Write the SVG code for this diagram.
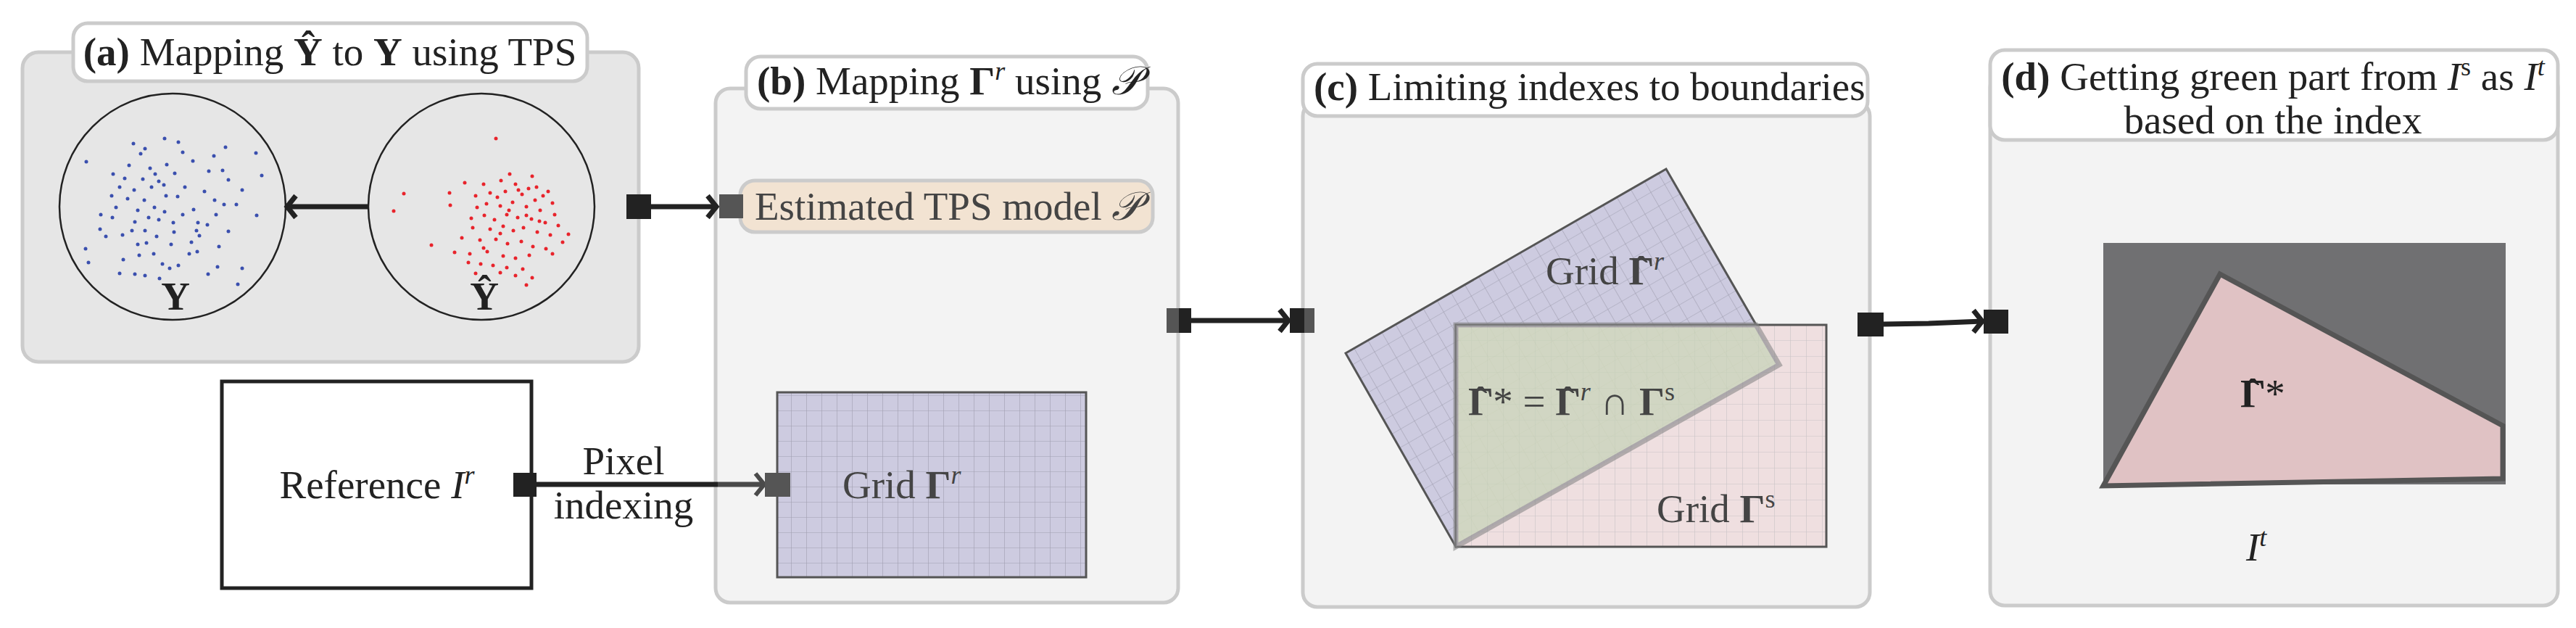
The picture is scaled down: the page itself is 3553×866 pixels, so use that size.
<svg xmlns="http://www.w3.org/2000/svg" width="3553" height="866" viewBox="0 0 3553 866" font-family="'DejaVu Serif', 'Liberation Serif', serif">
<style>
text{font-family:'Liberation Serif','DejaVu Serif',serif;fill:#222}
.t{font-size:55px}
.panel{fill:#f3f3f3;stroke:#cbcbcb;stroke-width:5}
.ttl{fill:#fff;stroke:#cbcbcb;stroke-width:5}
.con{stroke:#222;stroke-width:7;fill:none}
.g{fill:#555}
.bd{fill:#222}
.bl circle{fill:#3a4fae}
.rd circle{fill:#e8232b}
</style>
<defs>
<pattern id="gb" width="21" height="21" patternUnits="userSpaceOnUse"><rect width="21" height="21" fill="#cdcbe0"/><path d="M21 0V21M0 21H21" stroke="#a09fb0" stroke-width="1.2"/></pattern>
<pattern id="gr" width="22" height="22" patternUnits="userSpaceOnUse" patternTransform="rotate(-30 1856 487)"><rect width="22" height="22" fill="#cdcbe0"/><path d="M22 0V22M0 22H22" stroke="#a09fb0" stroke-width="1.2"/></pattern>
<pattern id="gp" width="22" height="22" patternUnits="userSpaceOnUse" x="2008" y="448"><rect width="22" height="22" fill="#efdfe0"/><path d="M22 0V22M0 22H22" stroke="#c9c4c6" stroke-width="1.2"/></pattern>
</defs>

<g id="panel-a">
<rect class="panel" x="31" y="72" width="850" height="427" rx="22" style="fill:#e6e6e6"/>
<rect class="ttl" x="101" y="32" width="709" height="80" rx="20"/>
<text class="t" x="455" y="90" text-anchor="middle"><tspan font-weight="bold">(a)</tspan> Mapping <tspan font-weight="bold">Ŷ</tspan> to <tspan font-weight="bold">Y</tspan> using TPS</text>
<circle cx="238" cy="285" r="156" fill="none" stroke="#222" stroke-width="2.5"/>
<circle cx="664" cy="285" r="156" fill="none" stroke="#222" stroke-width="2.5"/>
<text class="t" x="242" y="427" text-anchor="middle" font-weight="bold">Y</text>
<text class="t" x="668" y="427" text-anchor="middle" font-weight="bold">Ŷ</text>
<g class="bl">
<circle cx="119" cy="223" r="2.5"/><circle cx="184" cy="198" r="2.5"/><circle cx="200" cy="205" r="2.5"/><circle cx="227" cy="191" r="2.5"/><circle cx="246" cy="196" r="2.5"/><circle cx="311" cy="203" r="2.5"/><circle cx="353" cy="211" r="2.5"/><circle cx="295" cy="215" r="2.5"/><circle cx="178" cy="228" r="2.5"/><circle cx="207" cy="232" r="2.5"/><circle cx="230" cy="227" r="2.5"/><circle cx="266" cy="222" r="2.5"/><circle cx="288" cy="236" r="2.5"/><circle cx="156" cy="240" r="2.5"/><circle cx="172" cy="246" r="2.5"/><circle cx="197" cy="247" r="2.5"/><circle cx="219" cy="250" r="2.5"/><circle cx="241" cy="239" r="2.5"/><circle cx="307" cy="235" r="2.5"/><circle cx="361" cy="242" r="2.5"/><circle cx="315" cy="248" r="2.5"/><circle cx="165" cy="258" r="2.5"/><circle cx="185" cy="262" r="2.5"/><circle cx="209" cy="258" r="2.5"/><circle cx="226" cy="255" r="2.5"/><circle cx="255" cy="258" r="2.5"/><circle cx="282" cy="264" r="2.5"/><circle cx="154" cy="270" r="2.5"/><circle cx="176" cy="274" r="2.5"/><circle cx="199" cy="276" r="2.5"/><circle cx="229" cy="270" r="2.5"/><circle cx="245" cy="271" r="2.5"/><circle cx="296" cy="276" r="2.5"/><circle cx="334" cy="262" r="2.5"/><circle cx="309" cy="282" r="2.5"/><circle cx="160" cy="286" r="2.5"/><circle cx="190" cy="290" r="2.5"/><circle cx="213" cy="286" r="2.5"/><circle cx="227" cy="292" r="2.5"/><circle cx="267" cy="289" r="2.5"/><circle cx="326" cy="282" r="2.5"/><circle cx="139" cy="296" r="2.5"/><circle cx="155" cy="300" r="2.5"/><circle cx="205" cy="300" r="2.5"/><circle cx="219" cy="303" r="2.5"/><circle cx="239" cy="307" r="2.5"/><circle cx="273" cy="307" r="2.5"/><circle cx="298" cy="296" r="2.5"/><circle cx="354" cy="297" r="2.5"/><circle cx="138" cy="316" r="2.5"/><circle cx="182" cy="318" r="2.5"/><circle cx="200" cy="318" r="2.5"/><circle cx="240" cy="320" r="2.5"/><circle cx="271" cy="318" r="2.5"/><circle cx="286" cy="310" r="2.5"/><circle cx="315" cy="319" r="2.5"/><circle cx="146" cy="326" r="2.5"/><circle cx="169" cy="324" r="2.5"/><circle cx="264" cy="334" r="2.5"/><circle cx="275" cy="325" r="2.5"/><circle cx="190" cy="337" r="2.5"/><circle cx="202" cy="335" r="2.5"/><circle cx="236" cy="337" r="2.5"/><circle cx="302" cy="340" r="2.5"/><circle cx="118" cy="343" r="2.5"/><circle cx="192" cy="352" r="2.5"/><circle cx="212" cy="350" r="2.5"/><circle cx="261" cy="350" r="2.5"/><circle cx="272" cy="347" r="2.5"/><circle cx="122" cy="362" r="2.5"/><circle cx="224" cy="364" r="2.5"/><circle cx="234" cy="370" r="2.5"/><circle cx="246" cy="366" r="2.5"/><circle cx="300" cy="368" r="2.5"/><circle cx="334" cy="370" r="2.5"/><circle cx="165" cy="377" r="2.5"/><circle cx="186" cy="378" r="2.5"/><circle cx="200" cy="380" r="2.5"/><circle cx="220" cy="384" r="2.5"/><circle cx="287" cy="378" r="2.5"/><circle cx="328" cy="392" r="2.5"/><circle cx="252" cy="210" r="2.5"/><circle cx="194" cy="212" r="2.5"/><circle cx="214" cy="240" r="2.5"/><circle cx="186" cy="306" r="2.5"/><circle cx="252" cy="296" r="2.5"/><circle cx="216" cy="326" r="2.5"/><circle cx="170" cy="358" r="2.5"/>
</g>
<g class="rd">
<circle cx="684" cy="191" r="2.5"/><circle cx="557" cy="267" r="2.5"/><circle cx="543" cy="291" r="2.5"/><circle cx="620" cy="266" r="2.5"/><circle cx="621" cy="283" r="2.5"/><circle cx="595" cy="338" r="2.5"/><circle cx="641" cy="252" r="2.5"/><circle cx="667" cy="254" r="2.5"/><circle cx="691" cy="249" r="2.5"/><circle cx="703" cy="240" r="2.5"/><circle cx="711" cy="254" r="2.5"/><circle cx="734" cy="243" r="2.5"/><circle cx="740" cy="258" r="2.5"/><circle cx="656" cy="270" r="2.5"/><circle cx="676" cy="266" r="2.5"/><circle cx="697" cy="264" r="2.5"/><circle cx="720" cy="268" r="2.5"/><circle cx="749" cy="270" r="2.5"/><circle cx="762" cy="280" r="2.5"/><circle cx="658" cy="286" r="2.5"/><circle cx="671" cy="281" r="2.5"/><circle cx="690" cy="284" r="2.5"/><circle cx="707" cy="279" r="2.5"/><circle cx="726" cy="285" r="2.5"/><circle cx="745" cy="290" r="2.5"/><circle cx="765" cy="296" r="2.5"/><circle cx="650" cy="301" r="2.5"/><circle cx="668" cy="297" r="2.5"/><circle cx="682" cy="303" r="2.5"/><circle cx="699" cy="296" r="2.5"/><circle cx="714" cy="300" r="2.5"/><circle cx="733" cy="302" r="2.5"/><circle cx="752" cy="307" r="2.5"/><circle cx="770" cy="311" r="2.5"/><circle cx="784" cy="323" r="2.5"/><circle cx="652" cy="314" r="2.5"/><circle cx="676" cy="316" r="2.5"/><circle cx="694" cy="312" r="2.5"/><circle cx="708" cy="318" r="2.5"/><circle cx="722" cy="314" r="2.5"/><circle cx="741" cy="320" r="2.5"/><circle cx="759" cy="324" r="2.5"/><circle cx="776" cy="334" r="2.5"/><circle cx="637" cy="328" r="2.5"/><circle cx="662" cy="331" r="2.5"/><circle cx="684" cy="330" r="2.5"/><circle cx="700" cy="336" r="2.5"/><circle cx="719" cy="333" r="2.5"/><circle cx="735" cy="340" r="2.5"/><circle cx="753" cy="343" r="2.5"/><circle cx="627" cy="348" r="2.5"/><circle cx="648" cy="350" r="2.5"/><circle cx="672" cy="347" r="2.5"/><circle cx="694" cy="353" r="2.5"/><circle cx="711" cy="356" r="2.5"/><circle cx="730" cy="352" r="2.5"/><circle cx="762" cy="350" r="2.5"/><circle cx="646" cy="362" r="2.5"/><circle cx="663" cy="364" r="2.5"/><circle cx="680" cy="366" r="2.5"/><circle cx="699" cy="369" r="2.5"/><circle cx="721" cy="371" r="2.5"/><circle cx="711" cy="380" r="2.5"/><circle cx="734" cy="383" r="2.5"/><circle cx="726" cy="393" r="2.5"/><circle cx="690" cy="376" r="2.5"/><circle cx="656" cy="377" r="2.5"/><circle cx="715" cy="262" r="2.5"/><circle cx="738" cy="276" r="2.5"/><circle cx="756" cy="264" r="2.5"/><circle cx="702" cy="290" r="2.5"/><circle cx="726" cy="297" r="2.5"/><circle cx="686" cy="272" r="2.5"/><circle cx="729" cy="260" r="2.5"/><circle cx="744" cy="305" r="2.5"/><circle cx="690" cy="322" r="2.5"/><circle cx="667" cy="342" r="2.5"/>
</g>
</g>

<g id="panel-b">
<rect class="panel" x="987" y="122" width="638" height="709" rx="20"/>
<rect class="ttl" x="1029" y="78" width="554" height="72" rx="20"/>
<text class="t" x="1044" y="130"><tspan font-weight="bold">(b)</tspan> Mapping <tspan font-weight="bold">Γ</tspan><tspan font-style="italic" dy="-20" font-size="36">r</tspan><tspan dy="20"> using </tspan><tspan font-style="italic">𝒫</tspan></text>
<rect x="1021" y="249" width="569" height="71" rx="20" fill="#f2e3d2" stroke="#cbcbcb" stroke-width="5"/>
<text class="t" x="1041" y="303" style="fill:#444">Estimated TPS model <tspan font-style="italic">𝒫</tspan></text>
<rect x="1072" y="541" width="426" height="255" fill="url(#gb)" stroke="#555" stroke-width="3"/>
<text class="t" x="1162" y="687" style="fill:#444">Grid <tspan font-weight="bold">Γ</tspan><tspan font-style="italic" dy="-20" font-size="36">r</tspan></text>
</g>

<g id="panel-c">
<rect class="panel" x="1797" y="140" width="782" height="697" rx="20"/>
<rect class="ttl" x="1797" y="88" width="779" height="72" rx="20"/>
<text class="t" x="1812" y="138"><tspan font-weight="bold">(c)</tspan> Limiting indexes to boundaries</text>
<polygon points="1856,487 2298,233 2454,503 2008,754" fill="url(#gr)" stroke="#555" stroke-width="3"/>
<rect x="2008" y="448" width="511" height="306" fill="url(#gp)" stroke="#555" stroke-width="3"/>
<polygon points="2008,448 2422,448 2454,503 2008,754" fill="url(#gr)" opacity="0.35"/>
<polygon points="2008,448 2422,448 2454,503 2008,754" fill="#c6d6b0" opacity="0.6" stroke="#888" stroke-width="7"/>
<text class="t" x="2132" y="392" style="fill:#444">Grid <tspan font-weight="bold">Γ</tspan><tspan font-weight="bold" dx="-27">ˆ</tspan><tspan font-style="italic" dx="8" dy="-20" font-size="36">r</tspan></text>
<text class="t" x="2025" y="572" style="fill:#444"><tspan font-weight="bold">Γ</tspan><tspan font-weight="bold" dx="-27">ˆ</tspan><tspan dx="8">* = </tspan><tspan font-weight="bold">Γ</tspan><tspan font-weight="bold" dx="-27">ˆ</tspan><tspan font-style="italic" dx="8" dy="-20" font-size="36">r</tspan><tspan dy="20"> ∩ </tspan><tspan font-weight="bold">Γ</tspan><tspan dy="-20" font-size="36">s</tspan></text>
<text class="t" x="2285" y="720" style="fill:#444">Grid <tspan font-weight="bold">Γ</tspan><tspan dy="-20" font-size="36">s</tspan></text>
</g>

<g id="panel-d">
<rect class="panel" x="2745" y="100" width="783" height="735" rx="20"/>
<rect class="ttl" x="2745" y="69" width="783" height="124" rx="20"/>
<text class="t" x="3135" y="124" text-anchor="middle"><tspan font-weight="bold">(d)</tspan> Getting green part from <tspan font-style="italic">I</tspan><tspan dy="-20" font-size="36">s</tspan><tspan dy="20"> as </tspan><tspan font-style="italic">I</tspan><tspan font-style="italic" dy="-20" font-size="36">t</tspan></text>
<text class="t" x="3135" y="184" text-anchor="middle">based on the index</text>
<rect x="2901" y="335" width="555" height="333" fill="#707072"/>
<polygon points="3062,378 3452,587 3452,660 2901,670" fill="#e0c2c4" stroke="#555" stroke-width="7"/>
<text class="t" x="3090" y="561"><tspan font-weight="bold">Γ</tspan><tspan font-weight="bold" dx="-27">ˆ</tspan><tspan dx="8">*</tspan></text>
<text class="t" x="3098" y="773" font-style="italic">I<tspan dy="-20" font-size="36">t</tspan></text>
</g>

<g id="reference">
<rect x="306" y="526" width="427" height="285" fill="#fff" stroke="#222" stroke-width="5"/>
<text class="t" x="520" y="687" text-anchor="middle">Reference <tspan font-style="italic">I</tspan><tspan font-style="italic" dy="-20" font-size="36">r</tspan></text>
</g>

<g id="connectors">
<line class="con" x1="396" y1="285" x2="508" y2="285"/>
<path d="M408,270 Q400,280 396,285 Q400,290 408,300" class="con" stroke-width="6"/>
<line class="con" x1="898" y1="285" x2="988" y2="285"/>
<path d="M976,270 Q984,280 988,285 Q984,290 976,300" class="con" stroke-width="6"/>
<rect class="bd" x="864" y="268" width="34" height="34"/>
<rect class="g" x="992" y="268" width="33" height="33"/>
<line class="con" x1="740" y1="668" x2="990" y2="668"/>
<line x1="990" y1="668" x2="1053" y2="668" stroke="#4a4a4a" stroke-width="7"/>
<path d="M1042,653 Q1050,663 1054,668 Q1050,673 1042,683" fill="none" stroke="#4a4a4a" stroke-width="6"/>
<rect class="bd" x="708" y="652" width="32" height="33"/>
<rect class="g" x="1055" y="652" width="35" height="33"/>
<text x="860" y="654" text-anchor="middle" class="t">Pixel</text>
<text x="860" y="715" text-anchor="middle" class="t">indexing</text>
<line class="con" x1="1643" y1="442" x2="1777" y2="442"/>
<path d="M1765,427 Q1773,437 1777,442 Q1773,447 1765,457" class="con" stroke-width="6"/>
<rect class="g" x="1609" y="425" width="17" height="34"/><rect class="bd" x="1626" y="425" width="17" height="34"/>
<rect class="bd" x="1779" y="425" width="20" height="34"/><rect class="g" x="1799" y="425" width="14" height="34"/>
<path d="M2598,447 L2660,446 L2734,443" class="con"/>
<path d="M2722,428 Q2730,438 2734,443 Q2730,448 2722,458" class="con" stroke-width="6"/>
<rect class="bd" x="2562" y="431" width="36" height="33"/>
<rect class="bd" x="2736" y="427" width="34" height="33"/>
</g>
</svg>
